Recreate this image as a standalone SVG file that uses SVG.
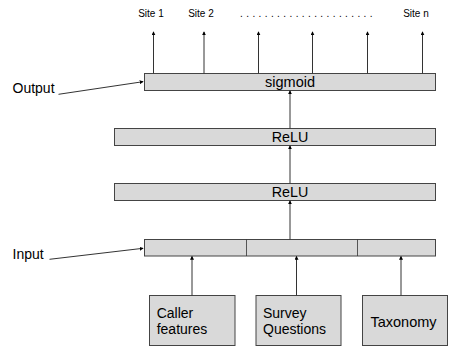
<svg xmlns="http://www.w3.org/2000/svg" width="456" height="348" viewBox="0 0 456 348">
<defs>
<marker id="ah" viewBox="0 0 6 6" refX="5" refY="3" markerWidth="4" markerHeight="4" orient="auto" markerUnits="userSpaceOnUse">
<path d="M0,0 L6,3 L0,6 z" fill="#000"/>
</marker>
<style>
.box{fill:#d9d9d9;stroke:#444;stroke-width:1}
.t{font-family:"Liberation Sans",Arial,sans-serif;fill:#000}
.c{stroke:#333;stroke-width:1;fill:none;marker-end:url(#ah)}
.l{stroke:#333;stroke-width:0.8;fill:none}
</style>
</defs>
<rect width="456" height="348" fill="#fff"/>
<g id="sites">
<text class="t" x="151" y="16.5" font-size="10" text-anchor="middle">Site 1</text>
<text class="t" x="201" y="16.5" font-size="10" text-anchor="middle">Site 2</text>
<text class="t" x="308" y="16.5" font-size="10" text-anchor="middle" letter-spacing="3.4">......................</text>
<text class="t" x="416" y="16.5" font-size="10" text-anchor="middle">Site n</text>
</g>
<g id="output-label"><text class="t" x="12.5" y="92.5" font-size="14">Output</text></g>
<g id="input-label"><text class="t" x="12.5" y="259" font-size="14">Input</text></g>
<g id="sigmoid">
<rect class="box" x="144.5" y="73.5" width="291" height="17"/>
<text class="t" x="290" y="86.5" font-size="14.5" text-anchor="middle">sigmoid</text>
</g>
<g id="relu1">
<rect class="box" x="114.5" y="128.5" width="321" height="17"/>
<text class="t" x="290" y="142.3" font-size="14.3" text-anchor="middle">ReLU</text>
</g>
<g id="relu2">
<rect class="box" x="114.5" y="183.5" width="321" height="17"/>
<text class="t" x="290" y="197.3" font-size="14.3" text-anchor="middle">ReLU</text>
</g>
<g id="input">
<rect class="box" x="144.5" y="239.5" width="291" height="16.5"/>
<line class="l" x1="246.5" y1="239.5" x2="246.5" y2="256"/>
<line class="l" x1="357.5" y1="239.5" x2="357.5" y2="256"/>
</g>
<g id="caller">
<rect class="box" x="149.5" y="295.5" width="85.5" height="50"/>
<text class="t" x="156.7" y="317.7" font-size="14">Caller</text>
<text class="t" x="156.7" y="334.3" font-size="14">features</text>
</g>
<g id="survey">
<rect class="box" x="256" y="295.5" width="85" height="50"/>
<text class="t" x="263" y="317.7" font-size="14">Survey</text>
<text class="t" x="263" y="334.3" font-size="14">Questions</text>
</g>
<g id="taxonomy">
<rect class="box" x="362.5" y="295.5" width="85" height="50"/>
<text class="t" x="403.5" y="326.5" font-size="14.5" text-anchor="middle">Taxonomy</text>
</g>
<g id="connectors">
<line class="c" x1="153.5" y1="73.5" x2="153.5" y2="32"/>
<line class="c" x1="204" y1="73.5" x2="204" y2="32"/>
<line class="c" x1="258.5" y1="73.5" x2="258.5" y2="32"/>
<line class="c" x1="312.5" y1="73.5" x2="312.5" y2="32"/>
<line class="c" x1="367.5" y1="73.5" x2="367.5" y2="32"/>
<line class="c" x1="422.5" y1="73.5" x2="422.5" y2="32"/>
<line class="c" x1="290" y1="128.5" x2="290" y2="91"/>
<line class="c" x1="290" y1="183.5" x2="290" y2="146"/>
<line class="c" x1="290" y1="239.5" x2="290" y2="201"/>
<line class="c" x1="192" y1="295.5" x2="192" y2="256.5"/>
<line class="c" x1="296.5" y1="295.5" x2="296.5" y2="256.5"/>
<line class="c" x1="401" y1="295.5" x2="401" y2="256.5"/>
<line class="c" x1="58.5" y1="94.3" x2="143" y2="81.7"/>
<line class="c" x1="49.5" y1="259.3" x2="143" y2="248.3"/>
</g>
</svg>
